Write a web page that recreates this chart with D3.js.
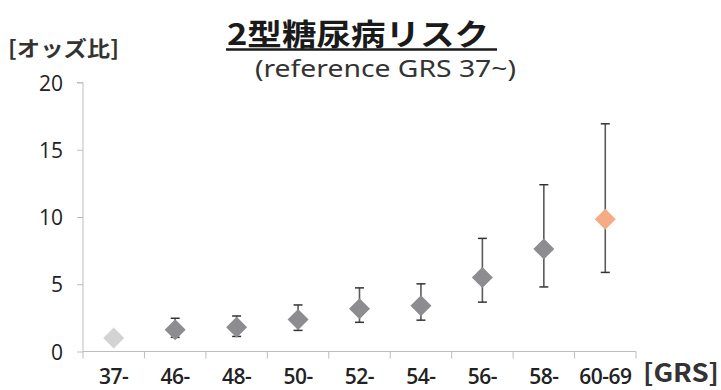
<!DOCTYPE html>
<html>
<head>
<meta charset="utf-8">
<script src="https://cdn.jsdelivr.net/npm/d3@7"></script>
<style>
  html, body { margin: 0; padding: 0; background: #fff; }
  svg { display: block; }
</style>
</head>
<body>
<svg id="chart" width="721" height="390"></svg>
<script>
const categories = ["37-", "46-", "48-", "50-", "52-", "54-", "56-", "58-", "60-69"];
const oddsRatio = [1.0, 1.62, 1.8, 2.37, 3.18, 3.4, 5.5, 7.63, 9.83];
const ciLower   = [null, 1.05, 1.12, 1.57, 2.17, 2.33, 3.67, 4.8, 5.88];
const ciUpper   = [null, 2.47, 2.64, 3.46, 4.73, 5.03, 8.41, 12.4, 16.93];
const pointColors = ["#d3d3d3", "#8d8d91", "#8d8d91", "#8d8d91", "#8d8d91", "#8d8d91", "#8d8d91", "#8d8d91", "#f5ab86"];
const yTicks = [0, 5, 10, 15, 20];

const svg = d3.select("#chart");
const x = d3.scaleBand().domain(categories).range([83, 636]).paddingInner(0).paddingOuter(0);
const y = d3.scaleLinear().domain([0, 20]).range([351.5, 82.5]);
const axisColor = "#bdbdbd";
const numFont = "'Open Sans', 'Noto Sans', sans-serif";
const cjkFont = "'Noto Sans CJK JP', sans-serif";

// Y axis
const yAxis = d3.axisLeft(y).tickValues(yTicks).tickSize(6).tickFormat(d3.format("d"));
const gy = svg.append("g").attr("transform", "translate(83,0)").call(yAxis);
gy.select(".domain").attr("stroke", axisColor).attr("d", `M-6,${y(20)}H0V${y(0)}`);
gy.selectAll(".tick line").attr("stroke", axisColor);
gy.selectAll(".tick text")
  .attr("x", -20)
  .attr("dy", "0.36em")
  .style("font-family", numFont)
  .style("font-size", "21px")
  .style("font-weight", "500")
  .attr("fill", "#222");

// X axis
const gx = svg.append("g").attr("transform", `translate(0,${y(0)})`);
gx.append("line").attr("x1", 83).attr("x2", 636).attr("y1", 0).attr("y2", 0).attr("stroke", axisColor);
const boundaries = categories.map(c => x(c)).concat([x.range()[1]]);
gx.selectAll(".xtick").data(boundaries).join("line")
  .attr("x1", d => d).attr("x2", d => d).attr("y1", 0).attr("y2", 7)
  .attr("stroke", axisColor);
gx.selectAll(".xlabel").data(categories).join("text")
  .attr("x", d => x(d) + x.bandwidth() / 2)
  .attr("y", 32.5)
  .attr("text-anchor", "middle")
  .style("font-family", numFont)
  .style("font-size", "21px")
  .style("font-weight", "600")
  .style("letter-spacing", "-0.5px")
  .attr("fill", "#222")
  .text(d => d);

// Error bars
const cx = d => x(d) + x.bandwidth() / 2;
const eb = svg.append("g");
categories.forEach((c, i) => {
  if (ciLower[i] == null) return;
  const xc = cx(c);
  eb.append("line").attr("x1", xc).attr("x2", xc).attr("y1", y(ciLower[i])).attr("y2", y(ciUpper[i]))
    .attr("stroke", "#5a5a5a").attr("stroke-width", 1.6);
  [ciLower[i], ciUpper[i]].forEach(v => {
    eb.append("line").attr("x1", xc - 4.5).attr("x2", xc + 4.5).attr("y1", y(v)).attr("y2", y(v))
      .attr("stroke", "#333").attr("stroke-width", 1.5);
  });
});

// Diamonds
const r = 10.5;
svg.append("g").selectAll("path").data(categories).join("path")
  .attr("d", (c, i) => {
    const xc = cx(c), yc = y(oddsRatio[i]);
    return `M${xc},${yc - r}L${xc + r},${yc}L${xc},${yc + r}L${xc - r},${yc}Z`;
  })
  .attr("fill", (c, i) => pointColors[i]);

// Title
svg.append("text")
  .attr("x", 227).attr("y", 45)
  .attr("textLength", 262).attr("lengthAdjust", "spacingAndGlyphs")
  .style("font-family", cjkFont).style("font-size", "30px").style("font-weight", "700")
  .attr("fill", "#1a1a1a")
  .text("2型糖尿病リスク");
svg.append("line").attr("x1", 226).attr("x2", 497).attr("y1", 49.5).attr("y2", 49.5)
  .attr("stroke", "#1a1a1a").attr("stroke-width", 2.5);

// Subtitle
svg.append("text")
  .attr("x", 255).attr("y", 77)
  .attr("textLength", 261).attr("lengthAdjust", "spacingAndGlyphs")
  .style("font-family", "'Noto Sans', sans-serif").style("font-size", "24px").style("font-weight", "400")
  .attr("fill", "#333")
  .text("(reference GRS 37~)");

// Y axis title
svg.append("text")
  .attr("x", 8).attr("y", 56)
  .attr("textLength", 111).attr("lengthAdjust", "spacingAndGlyphs")
  .style("font-family", cjkFont).style("font-size", "21px").style("font-weight", "700")
  .attr("fill", "#333")
  .text("[オッズ比]");

// X axis title
svg.append("text")
  .attr("x", 643).attr("y", 382)
  .attr("textLength", 76).attr("lengthAdjust", "spacingAndGlyphs")
  .style("font-family", cjkFont).style("font-size", "25px").style("font-weight", "700")
  .attr("fill", "#333")
  .text("[GRS]");
</script>
</body>
</html>
